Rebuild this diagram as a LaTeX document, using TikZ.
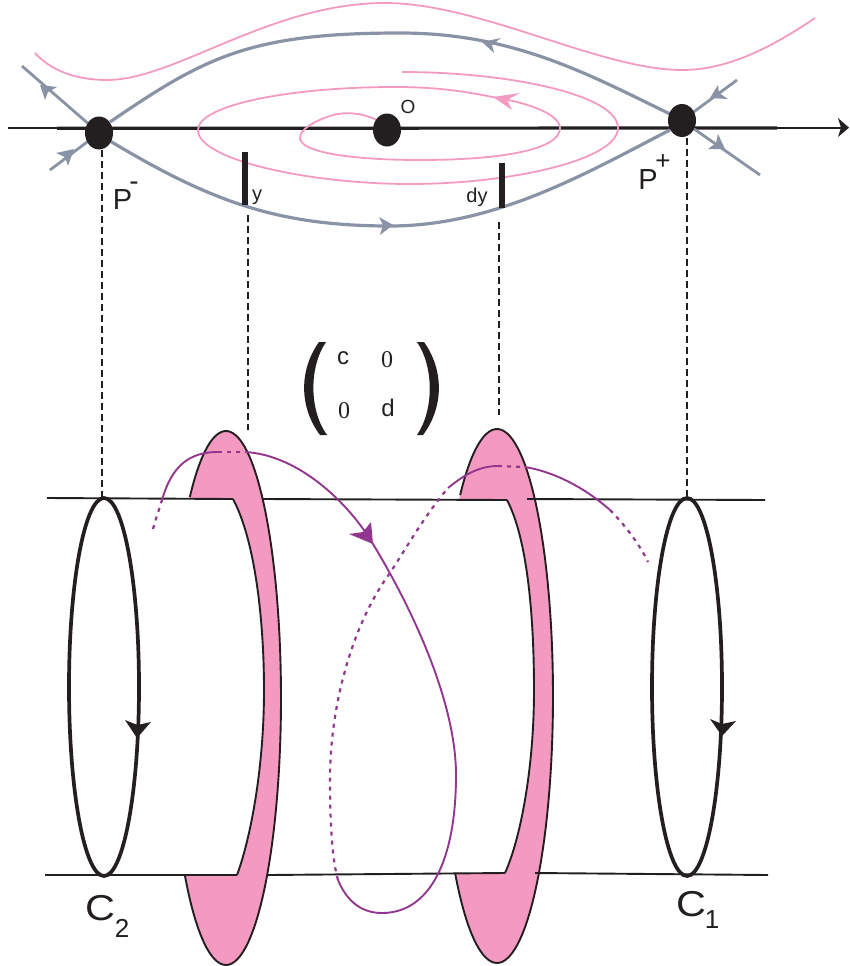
\documentclass[tikz,border=0pt]{standalone}
\usepackage{fontspec}
\setmainfont{Liberation Sans}
\newfontfamily\serifzero{Liberation Serif}
\definecolor{ink}{HTML}{231F20}
\definecolor{slate}{HTML}{8A93A6}
\definecolor{rose}{HTML}{F49AC1}
\definecolor{plum}{HTML}{93368F}
\usetikzlibrary{shapes.geometric}
\tikzset{
 sep/.style={draw=slate,line width=3.2pt},
 seplt/.style={draw=slate,line width=2.8pt},
 rosel/.style={draw=rose,line width=1.8pt},
 tick/.style={draw=ink,line width=5.6pt},
 guide/.style={draw=ink,line width=1.5pt,dash pattern=on 6.5pt off 4.5pt},
 rail/.style={draw=ink,line width=1.9pt},
 edge/.style={draw=ink,line width=1.9pt},
 ring/.style={ellipse,draw=ink,line width=3.7pt,minimum width=70pt,minimum height=378pt,inner sep=0pt},
 plumsolid/.style={draw=plum,line width=1.9pt},
 plumdash/.style={draw=plum,line width=2.2pt,dash pattern=on 4pt off 5pt},
 crit/.style={ellipse,fill=ink,minimum width=28pt,minimum height=33pt,inner sep=0pt},
 lab/.style={inner sep=0pt,text=ink},
}
\begin{document}
\begin{tikzpicture}[x=1pt,y=-1pt]
\useasboundingbox (0,0) rectangle (849,966);
% axis
\coordinate (axL) at (8,128);
\coordinate (axT) at (842,128);
\draw[ink,line width=1.4pt] (axL) -- (axT);
\draw[ink,line width=3.2pt] (57,128.3) -- (777,128);
\fill[ink] (849,127.7) -- (838,118) -- (841,127.7) -- (838,137) -- cycle;
% pink flow lines
\draw[rosel] (35,53) .. controls (55,75) and (85,80) .. (107,80) .. controls (175,80) and (270,3) .. (385,3) .. controls (480,3) and (600,70) .. (682,70) .. controls (730,70) and (775,45) .. (815,18);
\draw[rosel] (377,120) .. controls (362,113) and (345,111) .. (330,116) .. controls (312,122) and (300,130) .. (300,138) .. controls (300,152) and (350,160) .. (420,160) .. controls (500,160) and (560,150) .. (560,128) .. controls (560,115) and (530,103) .. (497,98);
\draw[rosel] (497,98) .. controls (460,90) and (430,87) .. (395,87) .. controls (290,87) and (198,105) .. (198,130) .. controls (198,160) and (310,184) .. (410,184) .. controls (510,184) and (618,160) .. (618,128) .. controls (618,95) and (510,72) .. (402,72);
\fill[rose] (493,97) -- (520,93) -- (507,100) -- (512,110) -- cycle;
% separatrices
\coordinate (Pmc) at (99,133);
\coordinate (Ppc) at (682,120.5);
\coordinate (a1) at (22,66);
\coordinate (a2) at (50,170);
\coordinate (a3) at (737,80);
\coordinate (a4) at (760,175);
\draw[sep] (110,122) .. controls (205,57) and (250,33) .. (400,33) .. controls (512,33) and (586,73) .. (670,114);
\draw[sep] (110,141) .. controls (210,201) and (277,226) .. (390,226) .. controls (497,226) and (590,171) .. (670,130);
\draw[seplt] (Pmc) -- (a1);
\draw[seplt] (Pmc) -- (a2);
\draw[seplt] (Ppc) -- (a3);
\draw[seplt] (Ppc) -- (a4);
\fill[slate] (40,85) -- (57,87) -- (48,92) -- (45,100) -- cycle;
\fill[slate] (74,149) -- (56,153) -- (65,157) -- (68,166) -- cycle;
\fill[slate] (393,225) -- (379,217) -- (383,225) -- (380,235) -- cycle;
\fill[slate] (482,42) -- (501,38) -- (492,45) -- (494,53) -- cycle;
\fill[slate] (710,98) -- (718,85) -- (719,93) -- (728,99) -- cycle;
\fill[slate] (725,149) -- (718,134) -- (716,143) -- (708,149) -- cycle;
\node[crit] (Pm) at (Pmc) {};
\node[crit] (Pp) at (Ppc) {};
\node[crit] (O) at (387,130) {};
% ticks
\draw[tick] (245,152) -- (245,205);
\draw[tick] (502,163) -- (502,208);
% guides
\coordinate (gm) at (102,150);
\coordinate (gmb) at (102,497);
\coordinate (gy) at (248,215);
\coordinate (gyb) at (248,430);
\coordinate (gd) at (499,222);
\coordinate (gdb) at (499,415);
\coordinate (gp) at (687,138);
\coordinate (gpb) at (687,497);
\draw[guide] (gm) -- (gmb);
\draw[guide] (gy) -- (gyb);
\draw[guide] (gd) -- (gdb);
\draw[guide] (gp) -- (gpb);
% labels
\node[lab,font=\fontsize{29}{29}\selectfont] (lPm) at (122.5,200) {P};
\node[lab,font=\fontsize{28}{28}\selectfont] (lPms) at (134,186) {-};
\node[lab,font=\fontsize{29}{29}\selectfont] (lPp) at (648,180) {P};
\node[lab,font=\fontsize{26}{26}\selectfont] (lPps) at (663,162) {+};
\node[lab,font=\fontsize{19}{19}\selectfont] (lO) at (408,107) {O};
\node[lab,font=\fontsize{20}{20}\selectfont] (ly) at (257,197) {y};
\node[lab,font=\fontsize{20}{20}\selectfont] (ldy) at (477,197) {dy};
% matrix
\fill[ink] (319,342) .. controls (299,370) and (299,407) .. (320,435) -- (327,435) .. controls (309,410) and (309,367) .. (326,342) -- cycle;
\fill[ink] (424,342) .. controls (444,370) and (444,407) .. (423,435) -- (417,435) .. controls (434,410) and (434,367) .. (417,342) -- cycle;
\node[lab,font=\fontsize{24}{24}\selectfont] (mc) at (343,358) {c};
\node[lab,font=\fontsize{24}{24}\selectfont\serifzero] (m0a) at (387,360) {0};
\node[lab,font=\fontsize{24}{24}\selectfont\serifzero] (m0b) at (344,411) {0};
\node[lab,font=\fontsize{24}{24}\selectfont] (md) at (388,408) {d};
% bands
\fill[rose] plot[domain=131.2:-138.5,samples=90] ({226+55*cos(\x)},{698-267*sin(\x)}) -- (237,875) .. controls (250,840) and (264,770) .. (264,690) .. controls (264,620) and (255,540) .. (233,499) -- (188,499) -- cycle;
\draw[edge] plot[domain=131.2:-138.5,samples=90] ({226+55*cos(\x)},{698-267*sin(\x)});
\draw[edge] (237,875) .. controls (250,840) and (264,770) .. (264,690) .. controls (264,620) and (255,540) .. (233,499);
\fill[rose] plot[domain=131.2:-138.5,samples=90] ({497+56*cos(\x)},{696-267*sin(\x)}) -- (505,873) .. controls (520,840) and (534,770) .. (534,690) .. controls (534,620) and (528,540) .. (507,500) -- (459,499.5) -- cycle;
\draw[edge] plot[domain=131.2:-138.5,samples=90] ({497+56*cos(\x)},{696-267*sin(\x)});
\draw[edge] (505,873) .. controls (520,840) and (534,770) .. (534,690) .. controls (534,620) and (528,540) .. (507,500);
% rails
\draw[rail] (47,498) -- (233,499);
\draw[rail] (263,499) -- (507,500);
\draw[rail] (527,499) -- (765,500);
\draw[rail] (45,875) -- (237,875);
\draw[rail] (268,875) -- (505,873);
\draw[rail] (535,873) -- (768,875);
% rings
\node[ring] (C2) at (104,687) {};
\node[ring] (C1) at (687,687) {};
\fill[ink] (137,738) -- (125,720) -- (137.5,725) -- (151,722) -- cycle;
\fill[ink] (722,736) -- (710,719) -- (722,724) -- (736,721) -- cycle;
\node[lab,font=\fontsize{36}{36}\selectfont] (lC2) at (100,908) {\scalebox{1.15}[1]{C}};
\node[lab,font=\fontsize{26}{26}\selectfont] (lC2s) at (122,928) {2};
\node[lab,font=\fontsize{36}{36}\selectfont] (lC1) at (691,904.5) {\scalebox{1.15}[1]{C}};
\node[lab,font=\fontsize{26}{26}\selectfont] (lC1s) at (712,920) {1};
% purple curve
\draw[plumdash] (153,529) .. controls (156,518) and (159,510) .. (162,500);
\draw[plumsolid] (162,500) .. controls (172,465) and (190,452) .. (218,452);
\draw[plumdash] (218,452) -- (245,452);
\draw[plumsolid] (245,452) .. controls (300,455) and (350,505) .. (373,544) .. controls (410,605) and (456,700) .. (456,775) .. controls (456,860) and (430,913) .. (382,913) .. controls (358,913) and (345,897) .. (338,880);
\draw[plumdash] (338,880) .. controls (332,860) and (330,820) .. (330,780) .. controls (330,700) and (355,620) .. (390,573) .. controls (405,550) and (425,515) .. (448,488);
\draw[plumsolid] (448,488) .. controls (465,474) and (480,466) .. (498,466);
\draw[plumdash] (498,466) -- (525,467);
\draw[plumsolid] (525,467) .. controls (555,472) and (585,488) .. (610,510);
\draw[plumdash] (610,510) .. controls (625,525) and (640,545) .. (648,562);
\fill[plum] (373,544) -- (349,534) -- (363,532) -- (371,522) -- cycle;
\end{tikzpicture}
\end{document}
